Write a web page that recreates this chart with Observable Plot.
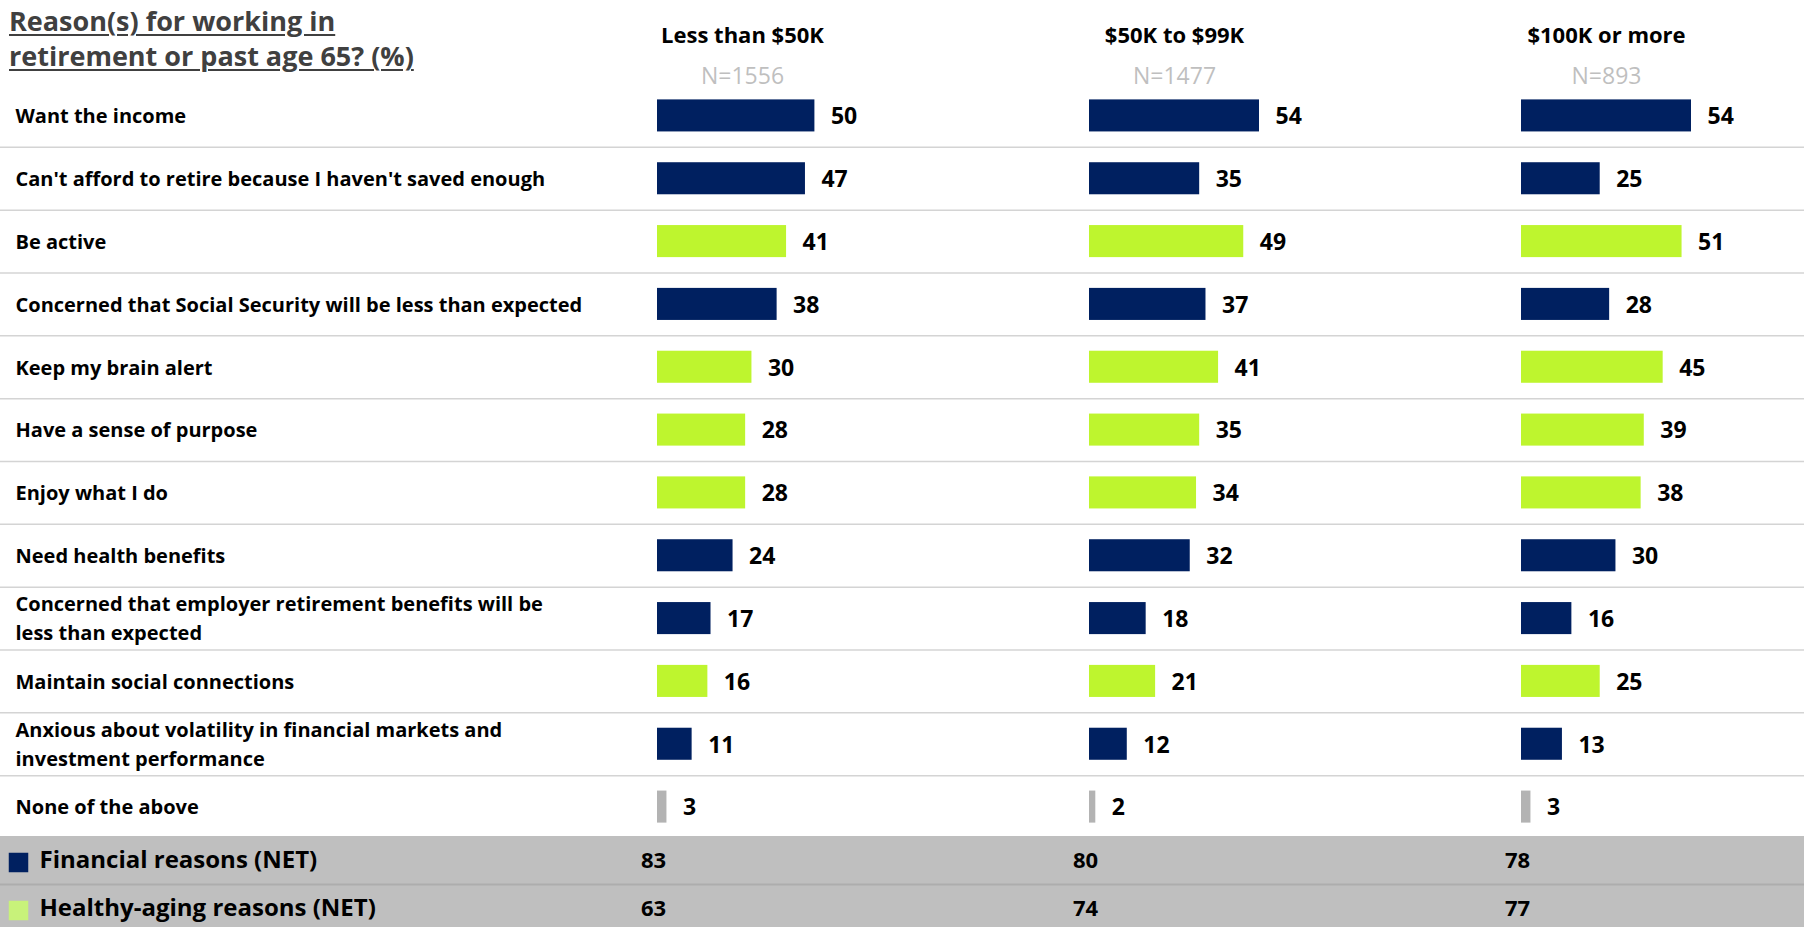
<!DOCTYPE html>
<html>
<head>
<meta charset="utf-8">
<script src="https://cdn.jsdelivr.net/npm/d3@7"></script>
<script src="https://cdn.jsdelivr.net/npm/@observablehq/plot@0.6"></script>
<style>
  html, body { margin: 0; padding: 0; background: #fff; }
  #wrap { position: relative; width: 1804px; height: 927px; overflow: hidden; font-family: "Open Sans", sans-serif; }
  #wrap > svg { position: absolute; left: 0; }
  #title { position: absolute; left: 9px; top: 3px; font-family: "Open Sans", sans-serif; font-weight: 700; font-size: 27px; line-height: 35px; color: #404040; text-decoration: underline; text-decoration-thickness: 2px; text-underline-offset: 3px; white-space: nowrap; }
</style>
</head>
<body>
<div id="wrap"></div>
<script>
// ---------- data ----------
const groups = ["Less than $50K", "$50K to $99K", "$100K or more"];
const sampleSizes = [1556, 1477, 893];
const reasons = [
  "Want the income",
  "Can't afford to retire because I haven't saved enough",
  "Be active",
  "Concerned that Social Security will be less than expected",
  "Keep my brain alert",
  "Have a sense of purpose",
  "Enjoy what I do",
  "Need health benefits",
  "Concerned that employer retirement benefits will be\nless than expected",
  "Maintain social connections",
  "Anxious about volatility in financial markets and\ninvestment performance",
  "None of the above"
];
const reasonTypes = ["financial", "financial", "healthy", "financial", "healthy", "healthy",
  "healthy", "financial", "financial", "healthy", "financial", "none"];
const valuesUnder50K = [50, 47, 41, 38, 30, 28, 28, 24, 17, 16, 11, 3];
const values50To99K = [54, 35, 49, 37, 41, 35, 34, 32, 18, 21, 12, 2];
const values100KPlus = [54, 25, 51, 28, 45, 39, 38, 30, 16, 25, 13, 3];
const netLabels = ["Financial reasons (NET)", "Healthy-aging reasons (NET)"];
const netFinancial = [83, 80, 78];
const netHealthy = [63, 74, 77];

const typeDomain = ["financial", "healthy", "none"];
const typeColors = ["#002060", "#BEF52E", "#B3B3B3"];
const legendColors = ["#002060", "#C8F27A"];

// ---------- tables ----------
const seriesByGroup = [valuesUnder50K, values50To99K, values100KPlus];
const rows = groups.flatMap((g, gi) => reasons.map((r, ri) => ({
  group: g, reason: r, type: reasonTypes[ri], value: seriesByGroup[gi][ri]
})));
const headers = groups.map((g, i) => ({group: g, n: sampleSizes[i]}));
const netRows = groups.flatMap((g, gi) => [
  {group: g, label: netLabels[0], value: netFinancial[gi]},
  {group: g, label: netLabels[1], value: netHealthy[gi]}
]);

// ---------- layout constants ----------
const W = 1804;
const mainH = 838, mainTop = 84;
const netH = 91, netRange = [0, 96];
const mL = 657, mR = 113;
const fxOpts = {domain: groups, paddingInner: 0.6065, paddingOuter: 0, round: false, axis: null};
const font = "'Open Sans', sans-serif";
const step = (mainH - mainTop) / reasons.length;
const wrap = document.getElementById("wrap");

// underlay: row labels + separators (full width)
const under = Plot.plot({
  width: W, height: mainH, marginTop: mainTop, marginBottom: 0, marginLeft: 0, marginRight: 0,
  style: {fontFamily: font, background: "transparent"},
  y: {type: "band", domain: reasons, padding: 0, round: false, axis: null},
  marks: [
    Plot.ruleY(reasons.slice(0, -1), {y: d => d, dy: step / 2, stroke: "#D4D4D4", strokeWidth: 1.5}),
    Plot.text(reasons, {y: d => d, text: d => d, frameAnchor: "left", dx: 15, dy: -2, textAnchor: "start",
      fontSize: 20, fontWeight: "bold", fill: "#000", lineHeight: 1.45})
  ]
});
under.style.top = "0px";
wrap.appendChild(under);

// main overlay: bars, values, headers
const main = Plot.plot({
  width: W, height: mainH, marginTop: mainTop, marginBottom: 0, marginLeft: mL, marginRight: mR,
  style: {fontFamily: font, background: "transparent", overflow: "visible"},
  fx: fxOpts,
  x: {domain: [0, 54], axis: null},
  y: {type: "band", domain: reasons, paddingInner: 0.49, paddingOuter: 0.245, round: false, axis: null},
  color: {domain: typeDomain, range: typeColors},
  marks: [
    Plot.barX(rows, {fx: "group", y: "reason", x: "value", fill: "type"}),
    Plot.text(rows, {fx: "group", y: "reason", x: "value", text: d => String(d.value), dx: 16, dy: 1,
      textAnchor: "start", fontSize: 23, fontWeight: "bold", fill: "#000"}),
    Plot.text(headers, {fx: "group", text: "group", frameAnchor: "top", lineAnchor: "bottom", dy: -42,
      fontSize: 22, fontWeight: "bold", fill: "#000"}),
    Plot.text(headers, {fx: "group", text: d => "N=" + d.n, frameAnchor: "top", lineAnchor: "bottom", dy: -1,
      fontSize: 23, fill: "#BFBFBF"})
  ]
});
main.style.top = "0px";
wrap.appendChild(main);

// NET underlay: gray band, separator, legend
const netUnder = Plot.plot({
  width: W, height: netH, marginTop: 0, marginBottom: 0, marginLeft: 0, marginRight: 0,
  style: {fontFamily: font, background: "#BFBFBF"},
  y: {type: "band", domain: netLabels, range: netRange, padding: 0, round: false, axis: null},
  marks: [
    Plot.ruleY(netLabels.slice(0, 1), {y: d => d, dy: (netRange[1] - netRange[0]) / 4, stroke: "#ADADAD", strokeWidth: 2}),
    Plot.dot(netLabels, {y: d => d, frameAnchor: "left", dx: 18, dy: 2, symbol: "square", r: 11,
      fill: (d, i) => legendColors[i], stroke: null}),
    Plot.text(netLabels, {y: d => d, text: d => d, frameAnchor: "left", dx: 39, textAnchor: "start",
      fontSize: 24, fontWeight: "bold", fill: "#000"})
  ]
});
netUnder.style.top = "836px";
wrap.appendChild(netUnder);

// NET overlay: values
const netOver = Plot.plot({
  width: W, height: netH, marginTop: 0, marginBottom: 0, marginLeft: mL, marginRight: mR,
  style: {fontFamily: font, background: "transparent", overflow: "visible"},
  fx: fxOpts,
  y: {type: "band", domain: netLabels, range: netRange, padding: 0, round: false, axis: null},
  marks: [
    Plot.text(netRows, {fx: "group", y: "label", text: d => String(d.value), frameAnchor: "left",
      textAnchor: "middle", dx: -4, fontSize: 22, fontWeight: "bold", fill: "#000"})
  ]
});
netOver.style.top = "836px";
wrap.appendChild(netOver);

// title
const title = document.createElement("div");
title.id = "title";
title.innerHTML = "Reason(s) for working in<br>retirement or past age 65? (%)";
wrap.appendChild(title);
</script>
</body>
</html>
